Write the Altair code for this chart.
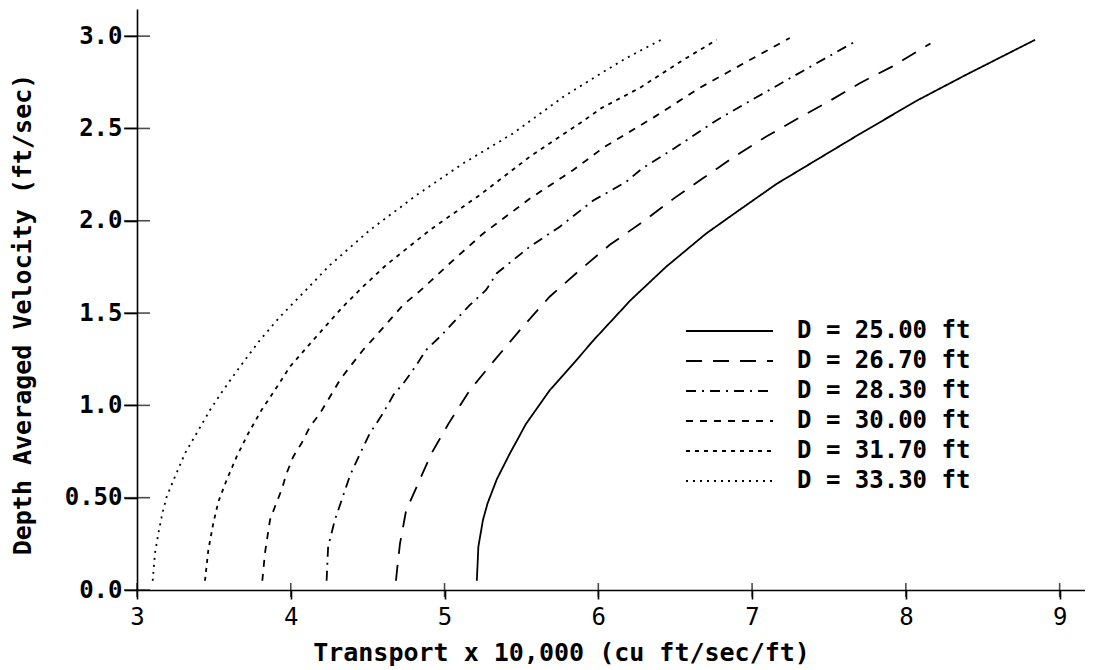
import altair as alt
import pandas as pd

# ---- data ----
series_labels = ["D = 25.00 ft", "D = 26.70 ft", "D = 28.30 ft",
                 "D = 30.00 ft", "D = 31.70 ft", "D = 33.30 ft"]

x_25 = [5.21, 5.22, 5.25, 5.28, 5.34, 5.425, 5.53, 5.685, 5.84, 5.97, 6.21, 6.44,
        6.70, 6.92, 7.16, 7.42, 7.68, 8.07, 8.39, 8.84]
y_25 = [0.05, 0.235, 0.38, 0.47, 0.60, 0.74, 0.90, 1.083, 1.228, 1.354, 1.57, 1.75,
        1.93, 2.06, 2.20, 2.33, 2.46, 2.65, 2.79, 2.98]

x_267 = [4.684, 4.69, 4.71, 4.75, 4.83, 4.915, 5.025, 5.165, 5.317, 5.50, 5.685, 5.88,
         6.075, 6.29, 6.49, 6.68, 6.89, 7.09, 7.30, 7.506, 7.70, 7.91, 8.16]
y_267 = [0.05, 0.10, 0.25, 0.43, 0.58, 0.74, 0.90, 1.083, 1.237, 1.417, 1.59, 1.733,
         1.87, 1.995, 2.12, 2.23, 2.35, 2.455, 2.555, 2.65, 2.745, 2.835, 2.96]

x_283 = [4.233, 4.243, 4.287, 4.32, 4.385, 4.44, 4.515, 4.60, 4.667, 4.74, 4.81, 4.88,
         4.98, 5.07, 5.165, 5.27, 5.34, 5.555, 5.75, 5.967, 6.18, 6.28, 6.49, 6.77,
         7.01, 7.38, 7.69]
y_283 = [0.05, 0.235, 0.38, 0.46, 0.62, 0.72, 0.85, 0.957, 1.056, 1.128, 1.21, 1.30,
         1.38, 1.46, 1.544, 1.625, 1.716, 1.86, 1.968, 2.11, 2.21, 2.28, 2.39, 2.545,
         2.66, 2.835, 2.98]

x_300 = [3.815, 3.832, 3.865, 3.897, 3.94, 3.973, 4.016, 4.07, 4.125, 4.19, 4.255, 4.32,
         4.385, 4.47, 4.558, 4.645, 4.73, 4.84, 5.035, 5.25, 5.555, 5.837, 6.04, 6.36,
         6.66, 6.94, 7.245]
y_300 = [0.05, 0.199, 0.38, 0.451, 0.542, 0.632, 0.722, 0.795, 0.885, 0.957, 1.047, 1.138,
         1.21, 1.30, 1.381, 1.463, 1.544, 1.62, 1.77, 1.93, 2.12, 2.275, 2.40, 2.56,
         2.72, 2.85, 2.99]

x_317 = [3.442, 3.464, 3.496, 3.529, 3.583, 3.648, 3.724, 3.81, 3.897, 3.995, 4.146, 4.34,
         4.47, 4.62, 4.905, 5.23, 5.555, 5.88, 6.02, 6.27, 6.55, 6.77]
y_317 = [0.05, 0.217, 0.361, 0.478, 0.596, 0.722, 0.849, 0.975, 1.083, 1.21, 1.354, 1.535,
         1.643, 1.76, 1.95, 2.14, 2.347, 2.528, 2.61, 2.72, 2.87, 2.98]

x_333 = [3.102, 3.117, 3.139, 3.165, 3.193, 3.247, 3.312, 3.388, 3.475, 3.561, 3.67, 3.80,
         3.93, 4.07, 4.255, 4.515, 4.82, 5.12, 5.447, 5.77, 6.02, 6.18, 6.43]
y_333 = [0.05, 0.199, 0.307, 0.415, 0.505, 0.614, 0.74, 0.849, 0.975, 1.083, 1.21, 1.354,
         1.48, 1.60, 1.76, 1.95, 2.14, 2.31, 2.474, 2.67, 2.80, 2.88, 2.99]

x_ticks = [3, 4, 5, 6, 7, 8, 9]
y_ticks = [0.0, 0.5, 1.0, 1.5, 2.0, 2.5, 3.0]

# ---- build table ----
xs = [x_25, x_267, x_283, x_300, x_317, x_333]
ys = [y_25, y_267, y_283, y_300, y_317, y_333]
rows = []
for lab, xa, ya in zip(series_labels, xs, ys):
    for i, (a, b) in enumerate(zip(xa, ya)):
        rows.append({"series": lab, "x": a, "y": b, "order": i})
df = pd.DataFrame(rows)

dashes = [[1, 0], [16, 11], [10, 6, 2, 6], [7, 7], [4, 5], [2, 5]]

FONT = "DejaVu Sans Mono"
x_scale = alt.Scale(domain=[3, 9.165], nice=False, zero=False)
y_scale = alt.Scale(domain=[0, 3.147], nice=False, zero=False)

lines = alt.Chart(df).mark_line(strokeWidth=1.8, color="black").encode(
    x=alt.X("x:Q", scale=x_scale,
            axis=alt.Axis(values=x_ticks, format="d", grid=False,
                          domainColor="black", domainWidth=1.6,
                          tickColor="black", tickWidth=1.6, tickSize=9,
                          labelFont=FONT, labelFontSize=24, labelColor="black",
                          labelPadding=6, labelFlush=False,
                          title="Transport x 10,000 (cu ft/sec/ft)",
                          titleFont=FONT, titleFontSize=25, titleFontWeight="bold",
                          titleColor="black", titleX=424, titleY=62,
                          titleAlign="center", titleBaseline="middle")),
    y=alt.Y("y:Q", scale=y_scale,
            axis=alt.Axis(values=y_ticks, grid=False,
                          labelExpr="datum.value == 0.5 ? '0.50' : format(datum.value, '.1f')",
                          domainColor="black", domainWidth=1.6,
                          tickColor="black", tickWidth=1.6, tickSize=13,
                          labelFont=FONT, labelFontSize=24, labelFontWeight="bold",
                          labelColor="black", labelPadding=2, labelFlush=False,
                          title="Depth Averaged Velocity (ft/sec)",
                          titleFont=FONT, titleFontSize=25, titleFontWeight="bold",
                          titleColor="black", titleX=-115, titleY=305,
                          titleAlign="center", titleBaseline="middle")),
    strokeDash=alt.StrokeDash("series:N",
                              scale=alt.Scale(domain=series_labels, range=dashes),
                              legend=alt.Legend(title=None, orient="none",
                                                legendX=548, legendY=310,
                                                symbolType="stroke", symbolSize=7569,
                                                symbolStrokeWidth=1.8,
                                                symbolStrokeColor="black",
                                                clipHeight=24, rowPadding=6,
                                                labelOffset=23, padding=0,
                                                labelFont=FONT, labelFontSize=24,
                                                labelFontWeight="bold",
                                                labelColor="black", labelLimit=400)),
    order="order:Q",
)

xt = alt.Chart(pd.DataFrame({"x": x_ticks, "y": [0.0] * len(x_ticks)})).mark_tick(
    orient="vertical", size=14, thickness=1.6, color="black").encode(
    x=alt.X("x:Q", scale=x_scale), y=alt.Y("y:Q", scale=y_scale))

yt = alt.Chart(pd.DataFrame({"x": [3.0] * len(y_ticks), "y": y_ticks})).mark_tick(
    orient="horizontal", size=26, thickness=1.6, color="black").encode(
    x=alt.X("x:Q", scale=x_scale), y=alt.Y("y:Q", scale=y_scale))

chart = alt.layer(lines, xt, yt).properties(
    width=948, height=581,
    autosize=alt.AutoSizeParams(type="none"),
    padding={"left": 129, "top": 1, "right": 0, "bottom": 78},
    background="white",
).configure_view(stroke=None)

chart.save("out.html", embed_options={"renderer": "svg", "actions": False})
